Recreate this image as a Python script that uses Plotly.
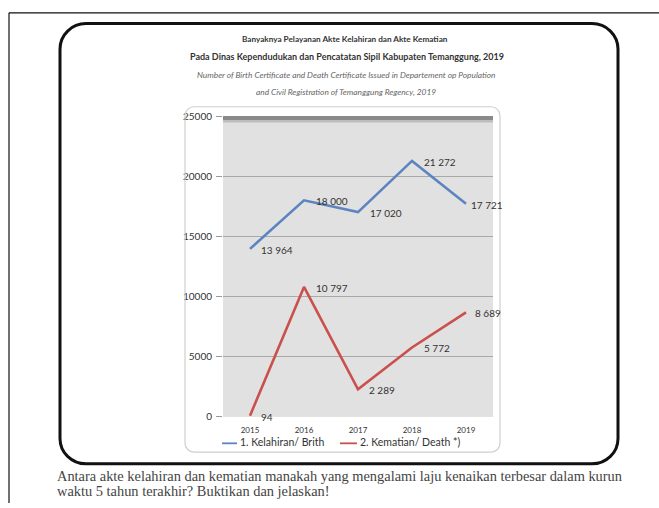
import plotly.graph_objects as go

W, H = 659, 508

years = ["2015", "2016", "2017", "2018", "2019"]
kelahiran = [13964, 18000, 17020, 21272, 17721]
kematian = [94, 10797, 2289, 5772, 8689]
y_ticks = [0, 5000, 10000, 15000, 20000, 25000]

# horizontal offsets (px) of the value labels from their points
birth_shift = [9, 10, 10, 10, 3]
death_shift = [9, 10, 9, 10, 7]


def px(x):
    return x / W


def py(y):
    return 1 - y / H


def rounded_rect(x0, y0, x1, y1, r):
    k = 0.5523 * r
    pts = [
        f"M {px(x0 + r)} {py(y0)}",
        f"L {px(x1 - r)} {py(y0)}",
        f"C {px(x1 - r + k)} {py(y0)} {px(x1)} {py(y0 + r - k)} {px(x1)} {py(y0 + r)}",
        f"L {px(x1)} {py(y1 - r)}",
        f"C {px(x1)} {py(y1 - r + k)} {px(x1 - r + k)} {py(y1)} {px(x1 - r)} {py(y1)}",
        f"L {px(x0 + r)} {py(y1)}",
        f"C {px(x0 + r - k)} {py(y1)} {px(x0)} {py(y1 - r + k)} {px(x0)} {py(y1 - r)}",
        f"L {px(x0)} {py(y0 + r)}",
        f"C {px(x0)} {py(y0 + r - k)} {px(x0 + r - k)} {py(y0)} {px(x0 + r)} {py(y0)}",
        "Z",
    ]
    return " ".join(pts)


def fmt(v):
    return f"{v:,}".replace(",", " ")


sans = "Lato, 'Open Sans', sans-serif"
serif = "'Liberation Serif', 'DejaVu Serif', serif"
label_font = dict(family=sans, size=10, color="#333333")

fig = go.Figure()
fig.add_trace(go.Scatter(
    x=years, y=kelahiran, mode="lines",
    line=dict(color="#5b84c1", width=2.6), showlegend=False,
))
fig.add_trace(go.Scatter(
    x=years, y=kematian, mode="lines",
    line=dict(color="#c9504c", width=2.6), showlegend=False,
))

LEG_Y = 446

shapes = [
    # page frame
    dict(type="line", xref="paper", yref="paper", x0=px(9), x1=px(659), y0=py(7), y1=py(7),
         line=dict(color="#111111", width=1.2)),
    dict(type="line", xref="paper", yref="paper", x0=px(9), x1=px(9), y0=py(7), y1=py(508),
         line=dict(color="#111111", width=1.2)),
    # thick rounded box around the figure
    dict(type="path", xref="paper", yref="paper", path=rounded_rect(60, 18, 618, 468, 26),
         line=dict(color="#111111", width=3)),
    # light chart-area box
    dict(type="path", xref="paper", yref="paper", path=rounded_rect(185, 103, 500, 456, 9),
         line=dict(color="#cfcfcf", width=1.2)),
    # shaded top edge of the plot area
    dict(type="rect", xref="paper", yref="paper", x0=px(223), x1=px(493), y0=py(116.5), y1=py(112.5),
         fillcolor="#8a8a8a", line=dict(width=0), layer="above"),
    dict(type="rect", xref="paper", yref="paper", x0=px(223), x1=px(493), y0=py(119), y1=py(116.5),
         fillcolor="#bdbdbd", line=dict(width=0), layer="above"),
    # legend keys
    dict(type="line", xref="paper", yref="paper", x0=px(222), x1=px(237), y0=py(LEG_Y + 1), y1=py(LEG_Y + 1),
         line=dict(color="#5b84c1", width=1.8)),
    dict(type="line", xref="paper", yref="paper", x0=px(340), x1=px(357), y0=py(LEG_Y + 1), y1=py(LEG_Y + 1),
         line=dict(color="#c9504c", width=1.8)),
]

annotations = [
    dict(text="<b>Banyaknya Pelayanan Akte Kelahiran dan Akte Kematian</b>", x=px(345), y=py(34),
         font=dict(family=sans, size=8.2, color="#333333")),
    dict(text="<b>Pada Dinas Kependudukan dan Pencatatan Sipil Kabupaten Temanggung, 2019</b>", x=px(347), y=py(52),
         font=dict(family=sans, size=9.0, color="#333333")),
    dict(text="<i>Number of Birth Certificate and Death Certificate Issued in Departement op Population</i>",
         x=px(346), y=py(71), font=dict(family=sans, size=8.3, color="#666666")),
    dict(text="<i>and Civil Registration of Temanggung Regency, 2019</i>", x=px(346), y=py(88),
         font=dict(family=sans, size=8.3, color="#666666")),
    dict(text="1. Kelahiran/ Brith", x=px(238), y=py(LEG_Y), xanchor="left",
         font=dict(family=sans, size=10.5, color="#333333")),
    dict(text="2. Kematian/ Death *)", x=px(358), y=py(LEG_Y), xanchor="left",
         font=dict(family=sans, size=10.5, color="#333333")),
    dict(text="Antara akte kelahiran dan kematian manakah yang mengalami laju kenaikan terbesar dalam kurun",
         x=px(55), y=py(480), xanchor="left",
         font=dict(family=serif, size=14.4, color="#444444")),
    dict(text="waktu 5 tahun terakhir? Buktikan dan jelaskan!",
         x=px(55), y=py(496), xanchor="left",
         font=dict(family=serif, size=14.4, color="#444444")),
]
for a in annotations:
    a.update(xref="paper", yref="paper", showarrow=False, yanchor=a.get("yanchor", "middle"),
             xanchor=a.get("xanchor", "center"))

# value labels placed to the right of each point (category axis -> serial index)
for series, shifts in ((kelahiran, birth_shift), (kematian, death_shift)):
    for i, v in enumerate(series):
        annotations.append(dict(
            x=i, y=v, xref="x", yref="y", text=fmt(v), showarrow=False,
            xanchor="left", yanchor="middle", xshift=shifts[i], yshift=-1, font=label_font,
        ))

fig.update_layout(
    width=W, height=H,
    margin=dict(l=0, r=0, t=0, b=0),
    paper_bgcolor="white",
    plot_bgcolor="#e1e1e1",
    shapes=shapes,
    annotations=annotations,
    xaxis=dict(
        domain=[px(223), px(493)], type="category", range=[-0.5, 4.5],
        showgrid=False, zeroline=False, showline=False,
        tickfont=dict(family=sans, size=8, color="#333333"),
        ticks="", ticklabelstandoff=7,
    ),
    yaxis=dict(
        domain=[py(420), py(112.5)], range=[0, 25000], tickvals=y_ticks, tickformat="d",
        showgrid=True, gridcolor="#a9a9a9", gridwidth=1, zeroline=False, showline=False,
        tickfont=dict(family=sans, size=10, color="#333333"),
        ticks="outside", ticklen=6, tickcolor="#9a9a9a", ticklabelstandoff=2,
    ),
)

fig.write_html("out.html")
